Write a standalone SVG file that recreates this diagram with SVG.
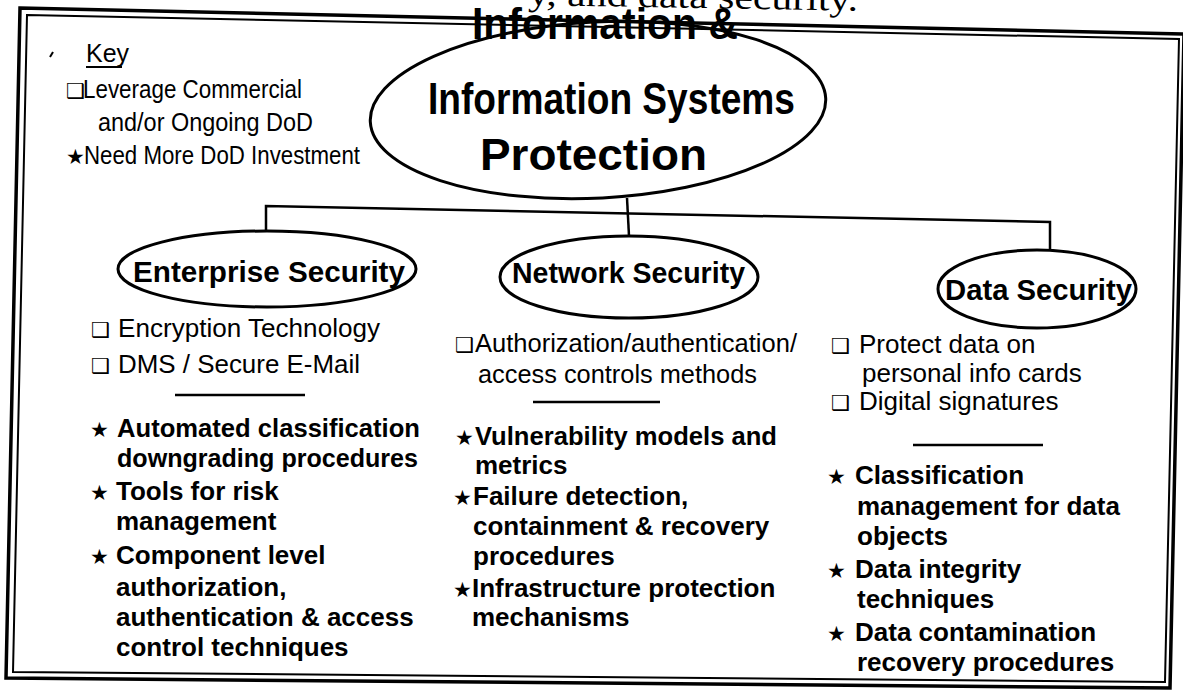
<svg xmlns="http://www.w3.org/2000/svg" width="1183" height="692" viewBox="0 0 1183 692">
<style>
.t{font-family:"Liberation Sans",Arial,sans-serif;fill:#000}
.k{font-size:25px}
.r{font-size:26px}
.b{font-size:26px;font-weight:bold}
.h{font-size:30px;font-weight:bold}
.ti{font-size:44px;font-weight:bold}
.sym{font-family:"DejaVu Sans",sans-serif;font-size:21px;fill:#000}
.ln{stroke:#000;fill:none;stroke-width:2.5}
.el{stroke:#000;fill:none;stroke-width:3}
.fr1{stroke:#000;fill:none;stroke-width:3.5}
.fr2{stroke:#000;fill:none;stroke-width:2}
</style>
<rect width="1183" height="692" fill="#fff"/>
<g id="frame">
<polygon class="fr1" points="20,8 1184,34 1170,688 6,678"/>
<polygon class="fr2" points="27,15 1179,39 1165,682 13,672"/>
<path d="M50 57 L53 52" stroke="#000" stroke-width="2"/>
<text x="528" y="5" transform="rotate(1 528 5)" font-family="Liberation Serif,serif" font-size="34" textLength="330" lengthAdjust="spacingAndGlyphs">y, and data security.</text>
</g>
<g id="key">
<text class="t k" x="86" y="62">Key</text>
<line x1="86" y1="67" x2="122" y2="67" stroke="#000" stroke-width="2"/>
<text class="sym" x="66" y="98">❑</text>
<text class="t k" x="83" y="98" textLength="219" lengthAdjust="spacingAndGlyphs">Leverage Commercial</text>
<text class="t k" x="98" y="131" textLength="215" lengthAdjust="spacingAndGlyphs">and/or Ongoing DoD</text>
<text class="sym" x="66" y="164">★</text>
<text class="t k" x="84" y="164" textLength="276" lengthAdjust="spacingAndGlyphs">Need More DoD Investment</text>
</g>
<g id="connectors">
<path class="ln" d="M627 198 L629 236"/>
<path class="ln" d="M266 232 L266 206 L1050 222 L1050 251"/>
</g>
<g id="root">
<ellipse class="el" cx="598" cy="110" rx="228" ry="88" transform="rotate(-3 598 110)" fill="#fff"/>
<text class="t ti" x="472" y="39" textLength="266" lengthAdjust="spacingAndGlyphs">Information &amp;</text>
<text class="t ti" x="428" y="114" textLength="367" lengthAdjust="spacingAndGlyphs">Information Systems</text>
<text class="t ti" x="480" y="170" textLength="227" lengthAdjust="spacingAndGlyphs">Protection</text>
</g>
<g id="enterprise">
<ellipse class="el" cx="267" cy="269" rx="149" ry="38"/>
<text class="t h" x="133" y="282" textLength="272" lengthAdjust="spacingAndGlyphs">Enterprise Security</text>
<text class="sym" x="91" y="337">❑</text>
<text class="t r" x="118" y="337" textLength="262" lengthAdjust="spacingAndGlyphs">Encryption Technology</text>
<text class="sym" x="91" y="373">❑</text>
<text class="t r" x="118" y="373" textLength="242" lengthAdjust="spacingAndGlyphs">DMS / Secure E-Mail</text>
<line class="ln" x1="175" y1="395" x2="305" y2="395" stroke-width="2"/>
<text class="sym" x="90" y="437">★</text>
<text class="t b" x="117" y="437" textLength="303" lengthAdjust="spacingAndGlyphs">Automated classification</text>
<text class="t b" x="117" y="467" textLength="301" lengthAdjust="spacingAndGlyphs">downgrading procedures</text>
<text class="sym" x="90" y="500">★</text>
<text class="t b" x="116" y="500">Tools for risk</text>
<text class="t b" x="116" y="530">management</text>
<text class="sym" x="90" y="564">★</text>
<text class="t b" x="116" y="564">Component level</text>
<text class="t b" x="116" y="596">authorization,</text>
<text class="t b" x="116" y="626">authentication &amp; access</text>
<text class="t b" x="116" y="656">control techniques</text>
</g>
<g id="network">
<ellipse class="el" cx="629" cy="277" rx="129" ry="41"/>
<text class="t h" x="512" y="283" textLength="233" lengthAdjust="spacingAndGlyphs">Network Security</text>
<text class="sym" x="455" y="352">❑</text>
<text class="t r" x="475" y="352" textLength="322" lengthAdjust="spacingAndGlyphs">Authorization/authentication/</text>
<text class="t r" x="478" y="383" textLength="279" lengthAdjust="spacingAndGlyphs">access controls methods</text>
<line class="ln" x1="533" y1="402" x2="660" y2="402" stroke-width="2"/>
<text class="sym" x="455" y="445">★</text>
<text class="t b" x="475" y="445" textLength="302" lengthAdjust="spacingAndGlyphs">Vulnerability models and</text>
<text class="t b" x="475" y="474">metrics</text>
<text class="sym" x="453" y="505">★</text>
<text class="t b" x="473" y="505">Failure detection,</text>
<text class="t b" x="473" y="535">containment &amp; recovery</text>
<text class="t b" x="473" y="565">procedures</text>
<text class="sym" x="453" y="597">★</text>
<text class="t b" x="472" y="597">Infrastructure protection</text>
<text class="t b" x="472" y="626">mechanisms</text>
</g>
<g id="data">
<ellipse class="el" cx="1037" cy="289" rx="99" ry="39"/>
<text class="t h" x="945" y="300" textLength="187" lengthAdjust="spacingAndGlyphs">Data Security</text>
<text class="sym" x="831" y="353">❑</text>
<text class="t r" x="859" y="353">Protect data on</text>
<text class="t r" x="862" y="382">personal info cards</text>
<text class="sym" x="831" y="410">❑</text>
<text class="t r" x="859" y="410">Digital signatures</text>
<line class="ln" x1="913" y1="445" x2="1043" y2="445" stroke-width="2"/>
<text class="sym" x="827" y="484">★</text>
<text class="t b" x="855" y="484">Classification</text>
<text class="t b" x="857" y="515">management for data</text>
<text class="t b" x="857" y="545">objects</text>
<text class="sym" x="827" y="578">★</text>
<text class="t b" x="855" y="578">Data integrity</text>
<text class="t b" x="857" y="608">techniques</text>
<text class="sym" x="827" y="641">★</text>
<text class="t b" x="855" y="641">Data contamination</text>
<text class="t b" x="857" y="671">recovery procedures</text>
</g>
</svg>
